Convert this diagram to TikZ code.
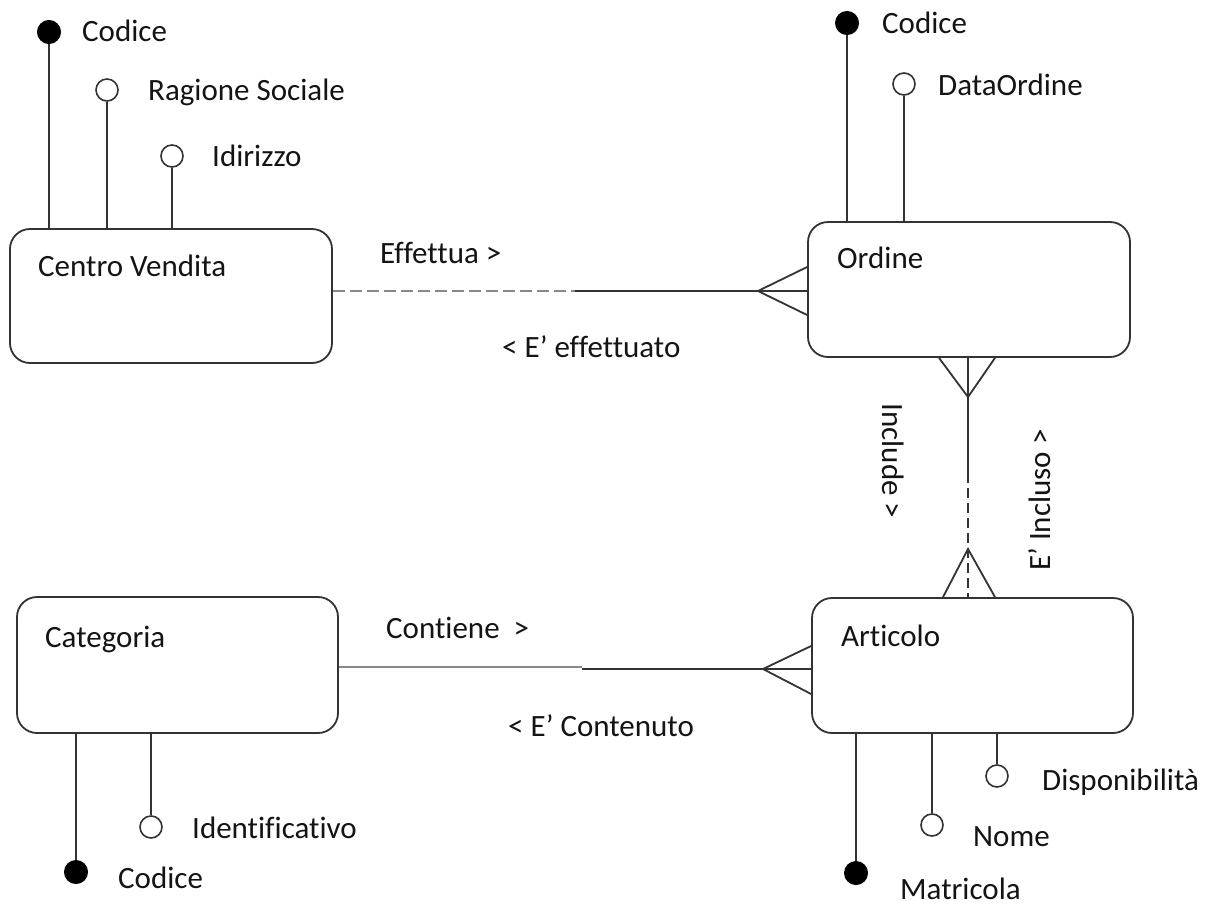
\documentclass[tikz,border=0pt]{standalone}
\usepackage{fontspec}
\setmainfont{Carlito}[Ligatures={NoCommon}]
\usetikzlibrary{calc}
\definecolor{linec}{HTML}{333333}
\definecolor{dashc}{HTML}{888888}
\definecolor{txtc}{HTML}{141414}
\newcommand\lbfont{\fontsize{31}{37}\selectfont}
\tikzset{
  entity/.style={draw=linec, line width=1.8pt, rounded corners=20pt, minimum width=322pt, minimum height=135pt, inner sep=0pt},
  lbl/.style={inner sep=0pt, anchor=base west, font=\lbfont, text=txtc},
  vlbl/.style={inner sep=0pt, anchor=center, font=\lbfont, text=txtc},
  keyattr/.style={circle, fill=black, draw=black, line width=1pt, minimum size=23pt, inner sep=0pt},
  attr/.style={circle, fill=white, draw=linec, line width=1.6pt, minimum size=22pt, inner sep=0pt},
  conn/.style={draw=linec, line width=1.8pt},
  greyconn/.style={draw=dashc, line width=1.8pt},
  dashconn/.style={draw=dashc, line width=1.8pt, dash pattern=on 12pt off 5pt},
  vdashconn/.style={draw=linec, line width=1.8pt, dash pattern=on 10pt off 5pt},
}
\begin{document}
\begin{tikzpicture}[x=1pt,y=-1pt]
\useasboundingbox[fill=white] (0,0) rectangle (1210,905);

% entities
\node[entity, minimum width=322pt, minimum height=134pt] (cv) at (171,296) {};
\node[entity, minimum width=322pt, minimum height=135pt] (ord) at (969,289.5) {};
\node[entity, minimum width=321pt, minimum height=136pt] (cat) at (177.5,665) {};
\node[entity, minimum width=321pt, minimum height=135pt] (art) at (972.5,665.5) {};

\node[lbl] (cvt) at (38,276) {Centro Vendita};
\node[lbl] (ordt) at (837,268) {Ordine};
\node[lbl] (catt) at (45,647) {Categoria};
\node[lbl] (artt) at (841,646) {Articolo};

% Centro Vendita attributes
\node[keyattr] (cvk) at (49,32) {};
\node[attr] (cvrs) at (107,90) {};
\node[attr] (cvind) at (172,156) {};
\draw[conn] (cvk) -- (cvk |- cv.north);
\draw[conn] (cvrs) -- (cvrs |- cv.north);
\draw[conn] (cvind) -- (cvind |- cv.north);
\node[lbl] (cvkl) at (82,41) {Codice};
\node[lbl] (cvrsl) at (148,100) {Ragione Sociale};
\node[lbl] (cvindl) at (212,166) {Idirizzo};

% Ordine attributes
\node[keyattr] (ordk) at (847,23) {};
\node[attr] (orddo) at (904,84) {};
\draw[conn] (ordk) -- (ordk |- ord.north);
\draw[conn] (orddo) -- (orddo |- ord.north);
\node[lbl] (ordkl) at (882,33) {Codice};
\node[lbl] (orddol) at (938,95) {DataOrdine};

% Categoria attributes
\node[keyattr] (catk) at (76,872) {};
\node[attr] (catid) at (151,827) {};
\draw[conn] (catk) -- (catk |- cat.south);
\draw[conn] (catid) -- (catid |- cat.south);
\node[lbl] (catkl) at (118,888) {Codice};
\node[lbl] (catidl) at (192,838) {Identificativo};

% Articolo attributes
\node[keyattr] (artk) at (856,873) {};
\node[attr] (artn) at (932,825) {};
\node[attr] (artd) at (997,776) {};
\draw[conn] (artk) -- (artk |- art.south);
\draw[conn] (artn) -- (artn |- art.south);
\draw[conn] (artd) -- (artd |- art.south);
\node[lbl] (artkl) at (900,899) {Matricola};
\node[lbl] (artnl) at (973,846) {Nome};
\node[lbl] (artdl) at (1042,790) {Disponibilità};

% Effettua relationship
\coordinate (e1) at (575,291);
\coordinate (e1a) at (758,291);
\draw[dashconn] (cv.east |- e1) -- (e1);
\draw[conn] (e1) -- (ord.west |- e1);
\draw[conn] ($(ord.west |- e1)+(0,-24)$) -- (e1a) -- ($(ord.west |- e1)+(0,24)$);
\node[lbl] (effl) at (380,263) {Effettua >};
\node[lbl] (effl2) at (502,357) {< E’ effettuato};

% Include relationship
\coordinate (v1) at (968,473);
\coordinate (v1a) at (968,397);
\coordinate (v1b) at (968,549);
\draw[conn] (v1 |- ord.south) -- (v1);
\draw[vdashconn] (v1) -- (v1 |- art.north);
\draw[conn] ($(v1 |- ord.south)+(-29,0)$) -- (v1a) -- ($(v1 |- ord.south)+(27,0)$);
\draw[conn] ($(v1 |- art.north)+(-25,0)$) -- (v1b) -- ($(v1 |- art.north)+(27,0)$);
\node[vlbl, rotate=-90] (incl) at (893,461) {Include >};
\node[vlbl, rotate=90] (incl2) at (1040,500) {E’ Incluso >};

% Contiene relationship
\coordinate (c1) at (582,667);
\coordinate (c2) at (582,669);
\coordinate (c1a) at (763,669);
\draw[greyconn] (cat.east |- c1) -- (c1);
\draw[conn] (c2) -- (art.west |- c2);
\draw[conn] ($(art.west |- c2)+(0,-23)$) -- (c1a) -- ($(art.west |- c2)+(0,25)$);
\node[lbl] (conl) at (386,638) {Contiene~~>};
\node[lbl] (conl2) at (508,736) {< E’ Contenuto};
\end{tikzpicture}
\end{document}
